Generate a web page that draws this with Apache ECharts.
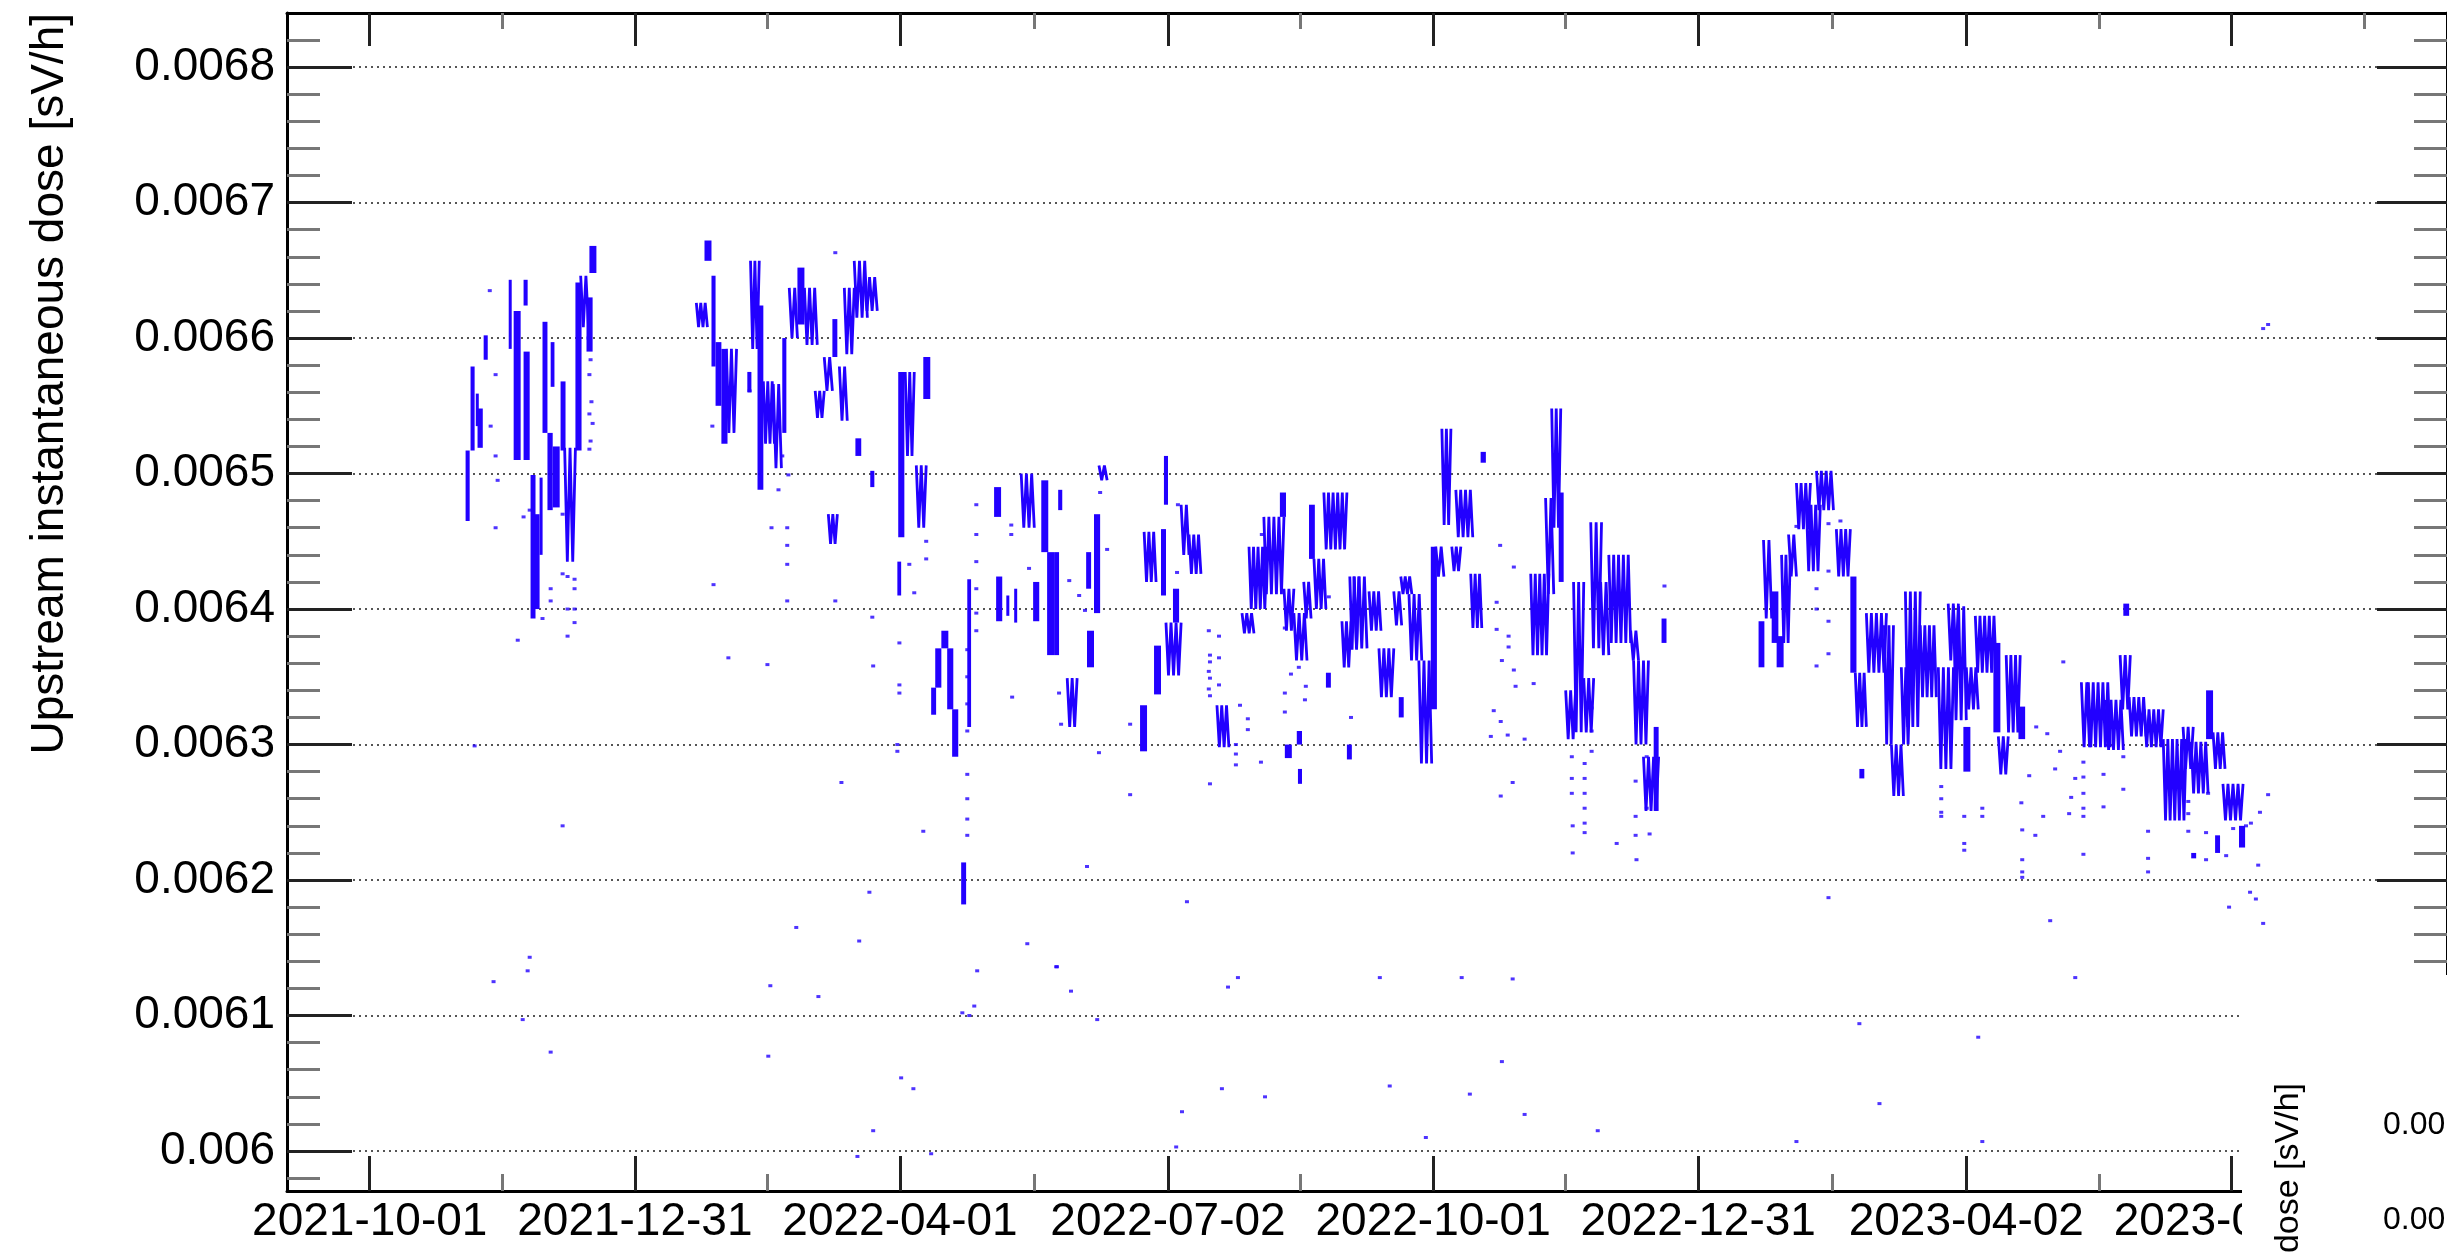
<!DOCTYPE html>
<html>
<head>
<meta charset="utf-8">
<title>Upstream instantaneous dose</title>
<script src="https://cdn.jsdelivr.net/npm/echarts@6/dist/echarts.min.js"></script>
<style>
  html, body { margin: 0; padding: 0; background: #fff; }
  #chart { width: 2447px; height: 1253px; }
</style>
</head>
<body>
<div id="chart"></div>
<script>
// x = days since 2021-10-01, values in sV/h
const xTickDays = [0, 91, 182, 274, 365, 456, 548, 639]
const xTickLabels = ['2021-10-01', '2021-12-31', '2022-04-01', '2022-07-02', '2022-10-01', '2022-12-31', '2023-04-02', '2023-07-02']
const xMinorDays = [45.5, 136.5, 228, 319.5, 410.5, 502, 593.5, 684.5]
const yTickValues = [0.006, 0.0061, 0.0062, 0.0063, 0.0064, 0.0065, 0.0066, 0.0067, 0.0068]
const yTickLabels = ['0.006', '0.0061', '0.0062', '0.0063', '0.0064', '0.0065', '0.0066', '0.0067', '0.0068']

// dense stretches: [day from, day to, low, high]
const streaksQ4_2021 = [
  [32.9, 34.3, 0.006465, 0.006517], [34.6, 36.0, 0.006517, 0.006579], [36.4, 37.4, 0.006535, 0.006559],
  [37.0, 38.8, 0.006519, 0.006548], [39.1, 40.5, 0.006584, 0.006602], [47.7, 48.7, 0.006592, 0.006643],
  [49.4, 51.8, 0.006510, 0.006620], [52.8, 54.2, 0.006624, 0.006643], [52.8, 54.9, 0.006510, 0.006590],
  [55.2, 56.9, 0.006393, 0.006499], [55.9, 58.3, 0.006400, 0.006470], [58.3, 59.3, 0.006440, 0.006497],
  [59.3, 61.0, 0.006530, 0.006612], [62.1, 63.4, 0.006564, 0.006597], [61.0, 62.8, 0.006473, 0.006530],
  [62.8, 65.2, 0.006475, 0.006520], [65.5, 67.2, 0.006517, 0.006568], [66.9, 70.6, 0.006435, 0.006519],
  [70.6, 72.7, 0.006517, 0.006641], [72.4, 75.1, 0.006608, 0.006646], [74.4, 76.5, 0.006590, 0.006630],
  [75.4, 77.8, 0.006648, 0.006668]
]
const streaksQ1_2022 = [
  [112.1, 115.9, 0.006608, 0.006626], [114.9, 117.3, 0.006657, 0.006672], [117.3, 118.7, 0.006579, 0.006646],
  [118.7, 120.7, 0.006550, 0.006597], [120.7, 122.8, 0.006522, 0.006592], [122.4, 125.9, 0.006530, 0.006592],
  [129.6, 131.0, 0.006560, 0.006575], [130.7, 133.7, 0.006592, 0.006657], [133.1, 135.1, 0.006488, 0.006624],
  [135.1, 138.9, 0.006522, 0.006568], [138.5, 141.3, 0.006504, 0.006566], [141.6, 143.0, 0.006530, 0.006600],
  [144.0, 146.8, 0.006600, 0.006637], [146.8, 149.2, 0.006610, 0.006652], [149.2, 153.6, 0.006595, 0.006637],
  [152.9, 156.0, 0.006541, 0.006561], [156.0, 158.8, 0.006561, 0.006586], [158.8, 160.5, 0.006586, 0.006614],
  [161.2, 163.9, 0.006539, 0.006579], [162.9, 166.3, 0.006588, 0.006637], [166.3, 170.8, 0.006615, 0.006657],
  [169.8, 174.2, 0.006620, 0.006645], [166.7, 168.7, 0.006513, 0.006526], [171.8, 173.2, 0.006490, 0.006502],
  [157.4, 160.5, 0.006448, 0.006470], [181.4, 183.5, 0.006453, 0.006575], [181.1, 182.4, 0.006410, 0.006435]
]
const streaksQ2_2022 = [
  [183.8, 186.9, 0.006513, 0.006575], [187.6, 191.0, 0.006460, 0.006506], [190.0, 192.4, 0.006555, 0.006586],
  [192.7, 194.4, 0.006322, 0.006342], [194.1, 196.2, 0.006342, 0.006371], [196.2, 198.6, 0.006371, 0.006384],
  [198.2, 200.3, 0.006326, 0.006371], [199.9, 202.0, 0.006291, 0.006326], [205.1, 206.4, 0.006313, 0.006422],
  [203.0, 204.7, 0.006182, 0.006213], [214.3, 216.7, 0.006468, 0.006490], [215.0, 217.1, 0.006391, 0.006424],
  [223.6, 228.1, 0.006460, 0.006500], [227.7, 229.8, 0.006391, 0.006420], [230.5, 232.9, 0.006442, 0.006495],
  [232.5, 234.9, 0.006366, 0.006442], [218.5, 219.5, 0.006395, 0.006410], [221.2, 222.2, 0.006390, 0.006415],
  [234.9, 236.6, 0.006366, 0.006442], [236.3, 237.7, 0.006473, 0.006488], [239.4, 242.8, 0.006313, 0.006349],
  [245.9, 247.6, 0.006415, 0.006442], [246.2, 248.6, 0.006357, 0.006384], [248.6, 250.7, 0.006397, 0.006470],
  [250.3, 253.1, 0.006495, 0.006506], [264.4, 266.8, 0.006295, 0.006329], [265.8, 269.9, 0.006420, 0.006457],
  [269.2, 271.6, 0.006337, 0.006373], [271.6, 273.3, 0.006410, 0.006459], [272.6, 274.0, 0.006477, 0.006513]
]
const streaksQ3_2022 = [
  [273.3, 278.5, 0.006351, 0.006390], [275.7, 277.8, 0.006390, 0.006415], [278.5, 281.2, 0.006440, 0.006477],
  [281.2, 285.3, 0.006426, 0.006455], [290.8, 294.9, 0.006298, 0.006329], [299.4, 303.5, 0.006382, 0.006397],
  [301.8, 308.0, 0.006400, 0.006446], [306.9, 313.8, 0.006411, 0.006468], [312.4, 314.5, 0.006468, 0.006486],
  [313.8, 317.2, 0.006384, 0.006415], [317.2, 321.7, 0.006362, 0.006397], [320.6, 323.1, 0.006393, 0.006420],
  [322.4, 324.4, 0.006437, 0.006477], [324.1, 328.2, 0.006400, 0.006437], [327.5, 335.4, 0.006444, 0.006486],
  [333.7, 336.8, 0.006357, 0.006391], [336.4, 339.5, 0.006370, 0.006424], [328.2, 329.9, 0.006342, 0.006353],
  [335.4, 337.1, 0.006289, 0.006300], [314.1, 316.5, 0.006290, 0.006300], [318.6, 320.0, 0.006271, 0.006282],
  [318.2, 320.0, 0.006300, 0.006310], [337.8, 342.3, 0.006371, 0.006424], [343.0, 347.1, 0.006384, 0.006413],
  [346.4, 351.5, 0.006335, 0.006371], [351.5, 354.2, 0.006388, 0.006413], [353.9, 357.7, 0.006411, 0.006424],
  [356.7, 361.1, 0.006362, 0.006411], [360.1, 364.5, 0.006286, 0.006362], [353.2, 354.9, 0.006320, 0.006335]
]
const streaksQ4_2022 = [
  [364.2, 366.3, 0.006326, 0.006446], [365.9, 368.7, 0.006424, 0.006446], [368.0, 371.1, 0.006462, 0.006533],
  [371.4, 374.5, 0.006428, 0.006446], [372.8, 378.6, 0.006453, 0.006488], [377.9, 381.7, 0.006386, 0.006426],
  [381.3, 383.1, 0.006508, 0.006516], [398.5, 404.7, 0.006366, 0.006426], [403.6, 406.4, 0.006411, 0.006482],
  [405.7, 408.8, 0.006460, 0.006548], [408.1, 409.8, 0.006420, 0.006486], [410.5, 413.9, 0.006304, 0.006340],
  [413.2, 416.7, 0.006309, 0.006420], [416.7, 420.1, 0.006309, 0.006349], [419.1, 422.8, 0.006371, 0.006464],
  [422.5, 425.3, 0.006366, 0.006420], [425.3, 432.8, 0.006375, 0.006440], [432.8, 435.5, 0.006362, 0.006384],
  [433.8, 438.9, 0.006300, 0.006362], [437.2, 442.4, 0.006251, 0.006291], [440.7, 442.4, 0.006251, 0.006313],
  [443.4, 445.1, 0.006375, 0.006393]
]
const streaksQ1_2023 = [
  [476.7, 478.7, 0.006357, 0.006391], [478.4, 481.2, 0.006393, 0.006451], [481.2, 483.5, 0.006375, 0.006413],
  [482.9, 485.3, 0.006357, 0.006380], [484.6, 487.6, 0.006375, 0.006440], [487.0, 489.7, 0.006424, 0.006455],
  [489.7, 494.5, 0.006459, 0.006493], [493.1, 497.9, 0.006428, 0.006477], [496.6, 502.4, 0.006473, 0.006502],
  [503.4, 508.2, 0.006424, 0.006459], [508.2, 510.3, 0.006353, 0.006424], [509.9, 513.7, 0.006313, 0.006353],
  [513.7, 520.6, 0.006353, 0.006397], [519.9, 523.0, 0.006300, 0.006388], [522.3, 526.4, 0.006262, 0.006300],
  [525.7, 528.8, 0.006300, 0.006357], [527.1, 532.2, 0.006313, 0.006413], [532.2, 537.7, 0.006335, 0.006388],
  [538.4, 543.6, 0.006282, 0.006357], [541.8, 545.3, 0.006362, 0.006404], [511.3, 513.0, 0.006275, 0.006282],
  [543.6, 548.0, 0.006318, 0.006402]
]
const streaksQ2_2023 = [
  [547.0, 549.4, 0.006280, 0.006313], [548.0, 552.1, 0.006326, 0.006357], [551.1, 558.3, 0.006353, 0.006395],
  [557.3, 559.7, 0.006309, 0.006375], [559.0, 562.4, 0.006278, 0.006306], [561.7, 566.5, 0.006309, 0.006366],
  [565.9, 568.2, 0.006304, 0.006328], [587.5, 590.3, 0.006298, 0.006346], [589.9, 597.4, 0.006298, 0.006346],
  [596.0, 601.9, 0.006296, 0.006333], [600.8, 604.3, 0.006326, 0.006366], [601.9, 603.9, 0.006395, 0.006404],
  [603.9, 609.7, 0.006306, 0.006335], [609.1, 615.6, 0.006298, 0.006326], [615.6, 623.5, 0.006244, 0.006304],
  [622.4, 625.9, 0.006282, 0.006313], [625.2, 631.0, 0.006264, 0.006302], [630.3, 632.7, 0.006304, 0.006340],
  [632.7, 636.8, 0.006282, 0.006309], [636.1, 643.0, 0.006244, 0.006271], [641.6, 643.7, 0.006224, 0.006240],
  [633.4, 635.1, 0.006220, 0.006233], [625.2, 626.9, 0.006216, 0.006220]
]

// isolated readings: [day, value]
const dots2021 = [
  [41.2, 0.006635], [41.5, 0.006535], [43.2, 0.006573], [43.2, 0.006513], [43.9, 0.006495], [43.2, 0.006460],
  [36.0, 0.006299], [50.8, 0.006377], [66.2, 0.006240], [42.5, 0.006125], [54.9, 0.006143], [54.2, 0.006133],
  [52.5, 0.006097], [62.1, 0.006073], [66.2, 0.006470], [66.2, 0.006426], [62.1, 0.006415], [62.1, 0.006406],
  [67.9, 0.006424], [67.9, 0.006400], [67.9, 0.006380], [70.3, 0.006422], [70.3, 0.006415], [70.3, 0.006400],
  [70.3, 0.006390], [59.3, 0.006393], [52.8, 0.006468], [54.9, 0.006473], [75.1, 0.006600], [75.8, 0.006584],
  [75.4, 0.006573], [76.1, 0.006553], [75.4, 0.006544], [76.5, 0.006537], [75.8, 0.006524], [75.4, 0.006518]
]
const dots2022H1 = [
  [117.6, 0.006535], [118.0, 0.006418], [123.1, 0.006364], [130.4, 0.006561], [137.9, 0.006460], [140.3, 0.006488],
  [141.6, 0.006513], [143.7, 0.006499], [143.3, 0.006460], [143.3, 0.006447], [143.3, 0.006433], [143.3, 0.006406],
  [136.5, 0.006359], [159.8, 0.006406], [159.8, 0.006663], [172.5, 0.006394], [172.8, 0.006358], [161.9, 0.006272],
  [171.5, 0.006191], [146.4, 0.006165], [168.0, 0.006155], [137.5, 0.006122], [154.0, 0.006114], [136.8, 0.006070],
  [172.8, 0.006015], [167.4, 0.005996], [181.8, 0.006375], [181.8, 0.006344], [181.8, 0.006338], [181.1, 0.006300],
  [181.1, 0.006295], [182.4, 0.006054], [185.2, 0.006433], [186.9, 0.006412], [191.0, 0.006450], [191.0, 0.006437],
  [190.0, 0.006236], [186.6, 0.006046], [192.7, 0.005998], [205.1, 0.006278], [205.1, 0.006260], [205.1, 0.006245],
  [205.1, 0.006233], [205.1, 0.006370], [205.1, 0.006350], [205.1, 0.006330], [205.1, 0.006310], [208.2, 0.006477],
  [208.2, 0.006455], [208.2, 0.006435], [208.2, 0.006415], [208.2, 0.006397], [208.2, 0.006384], [208.5, 0.006133],
  [207.5, 0.006107], [203.4, 0.006102], [205.8, 0.006100], [220.5, 0.006335], [220.2, 0.006462], [220.2, 0.006455],
  [226.3, 0.006430], [225.7, 0.006153], [235.6, 0.006136], [236.6, 0.006338], [237.3, 0.006315], [240.1, 0.006421],
  [243.5, 0.006410], [245.5, 0.006399], [253.1, 0.006444], [250.7, 0.006486], [250.3, 0.006294], [261.0, 0.006263],
  [246.2, 0.006210], [235.9, 0.006136], [240.7, 0.006118], [249.7, 0.006097], [261.0, 0.006315], [277.1, 0.006427],
  [277.4, 0.006477]
]
const dots2022H2 = [
  [280.5, 0.006184], [294.6, 0.006121], [298.0, 0.006128], [292.5, 0.006046], [307.3, 0.006040], [278.8, 0.006029],
  [276.8, 0.006003], [288.4, 0.006271], [305.9, 0.006287], [301.4, 0.006319], [288.0, 0.006384], [288.4, 0.006366],
  [288.4, 0.006361], [288.0, 0.006354], [288.4, 0.006349], [288.0, 0.006341], [288.4, 0.006336], [291.5, 0.006380],
  [291.5, 0.006364], [291.5, 0.006344], [297.3, 0.006300], [297.3, 0.006293], [297.3, 0.006285], [298.7, 0.006329],
  [301.4, 0.006311], [306.2, 0.006455], [314.1, 0.006386], [316.2, 0.006352], [314.1, 0.006338], [314.1, 0.006324],
  [318.9, 0.006357], [321.3, 0.006343], [321.0, 0.006333], [329.2, 0.006409], [336.8, 0.006320], [346.7, 0.006128],
  [374.8, 0.006128], [392.3, 0.006127], [350.1, 0.006048], [377.6, 0.006042], [388.6, 0.006066], [396.4, 0.006027],
  [362.5, 0.006010], [421.5, 0.006015], [388.2, 0.006262], [392.3, 0.006272], [428.0, 0.006227], [439.3, 0.006234],
  [412.9, 0.006220], [434.8, 0.006215], [412.9, 0.006240], [386.8, 0.006405], [386.8, 0.006385], [390.9, 0.006380],
  [390.9, 0.006372], [388.6, 0.006362], [392.7, 0.006355], [393.3, 0.006343], [385.8, 0.006325], [388.2, 0.006317],
  [390.6, 0.006307], [384.8, 0.006306], [396.4, 0.006304], [392.7, 0.006431], [399.5, 0.006345], [388.0, 0.006447],
  [417.0, 0.006286], [417.0, 0.006275], [417.0, 0.006264], [417.0, 0.006253], [417.0, 0.006242], [417.0, 0.006235],
  [412.6, 0.006291], [412.6, 0.006275], [412.6, 0.006264], [434.5, 0.006273], [434.5, 0.006247], [434.5, 0.006233],
  [438.3, 0.006291], [438.3, 0.006253], [419.4, 0.006327], [419.4, 0.006310], [419.4, 0.006295], [444.4, 0.006417]
]
const dots2023 = [
  [539.4, 0.006269], [539.4, 0.006260], [539.4, 0.006250], [539.4, 0.006247], [500.7, 0.006187], [511.3, 0.006094],
  [518.2, 0.006035], [489.7, 0.006007], [496.6, 0.006415], [496.6, 0.006400], [496.6, 0.006358], [500.7, 0.006428],
  [500.7, 0.006391], [500.7, 0.006367], [500.7, 0.006463], [504.8, 0.006465], [489.7, 0.006461], [552.1, 0.006084],
  [553.5, 0.006007], [576.8, 0.006170], [585.4, 0.006128], [581.3, 0.006361], [638.2, 0.006180], [644.0, 0.006240],
  [645.4, 0.006191], [647.4, 0.006186], [649.9, 0.006168], [648.2, 0.006211], [648.8, 0.006250], [651.6, 0.006263],
  [649.9, 0.006607], [651.6, 0.006610], [547.3, 0.006247], [547.3, 0.006227], [547.3, 0.006222], [553.5, 0.006253],
  [553.5, 0.006247], [566.9, 0.006257], [567.2, 0.006237], [567.2, 0.006215], [567.2, 0.006206], [567.2, 0.006202],
  [569.6, 0.006277], [571.7, 0.006233], [572.0, 0.006313], [574.4, 0.006247], [575.8, 0.006308], [578.5, 0.006282],
  [580.2, 0.006295], [583.3, 0.006249], [584.0, 0.006261], [585.4, 0.006275], [588.2, 0.006287], [588.2, 0.006276],
  [588.2, 0.006264], [588.2, 0.006253], [588.2, 0.006247], [588.2, 0.006219], [595.1, 0.006278], [595.1, 0.006254],
  [601.9, 0.006291], [601.9, 0.006267], [610.4, 0.006236], [610.4, 0.006216], [610.4, 0.006206], [624.2, 0.006258],
  [624.2, 0.006249], [624.2, 0.006236], [630.3, 0.006235], [630.3, 0.006215], [631.0, 0.006264], [637.2, 0.006218],
  [639.6, 0.006238], [645.7, 0.006242]
]

const streaks = [].concat(streaksQ4_2021, streaksQ1_2022, streaksQ2_2022, streaksQ3_2022,
  streaksQ4_2022, streaksQ1_2023, streaksQ2_2023)
const dots = [].concat(dots2021, dots2022H1, dots2022H2, dots2023)

const blue = '#2200ff'
const font = "'Liberation Sans', Arial, Helvetica, sans-serif"
const xMin = -28.4
const xMax = 713.0
const yMin = 0.0059705
const yMax = 0.0068399

// minor ticks on the dose axis, every 0.00002
const yMinorValues = []
for (let k = 299; k <= 341; k++) {
  if (k % 5 !== 0) yMinorValues.push(k * 0.00002)
}

const gridBox = { left: 287, top: 13, right: -5, bottom: 62 }

function majorX (position, len, labels) {
  return {
    type: 'value', gridIndex: 0, position: position, min: xMin, max: xMax,
    axisLine: { show: true, onZero: false, lineStyle: { color: '#000', width: 3 } },
    axisTick: { show: true, inside: true, length: len, customValues: xTickDays, lineStyle: { color: '#222', width: 3 } },
    axisLabel: labels ? {
      show: true, customValues: xTickDays, margin: 8, color: '#000', fontSize: 46, fontFamily: font,
      formatter: v => xTickLabels[xTickDays.indexOf(Math.round(v))] || ''
    } : { show: false },
    splitLine: { show: false }
  }
}
function minorX (position, len) {
  return {
    type: 'value', gridIndex: 1, position: position, min: xMin, max: xMax,
    axisLine: { show: false, onZero: false },
    axisTick: { show: true, inside: true, length: len, customValues: xMinorDays, lineStyle: { color: '#777', width: 3 } },
    axisLabel: { show: false },
    splitLine: { show: false }
  }
}
function majorY (position, len, labels) {
  return {
    type: 'value', gridIndex: 0, position: position, min: yMin, max: yMax,
    axisLine: { show: true, onZero: false, lineStyle: { color: '#000', width: 3 } },
    axisTick: { show: true, inside: true, length: len, customValues: yTickValues, lineStyle: { color: '#222', width: 3 } },
    axisLabel: labels ? {
      show: true, customValues: yTickValues, margin: 12, color: '#000', fontSize: 46, fontFamily: font,
      formatter: v => yTickLabels[Math.round((v - 0.006) / 0.0001)]
    } : { show: false },
    splitLine: labels ? { show: true, lineStyle: { color: '#555', width: 2, type: [2, 4] } } : { show: false }
  }
}
function minorY (position, len) {
  return {
    type: 'value', gridIndex: 1, position: position, min: yMin, max: yMax,
    axisLine: { show: false, onZero: false },
    axisTick: { show: true, inside: true, length: len, customValues: yMinorValues, lineStyle: { color: '#777', width: 3 } },
    axisLabel: { show: false },
    splitLine: { show: false }
  }
}

// a wide stretch is drawn as a tight zig-zag between its low and high, a narrow one as a bar
function renderStreak (params, api) {
  const p0 = api.coord([api.value(0), api.value(3)])
  const p1 = api.coord([api.value(1), api.value(2)])
  const w = p1[0] - p0[0]
  const h = p1[1] - p0[1]
  if (w < 7 || h < 8) {
    return {
      type: 'rect',
      shape: { x: p0[0], y: p0[1], width: Math.max(w, 3), height: Math.max(h, 3) },
      style: { fill: blue }
    }
  }
  const n = Math.max(2, Math.round(w / 2.4))
  const pts = []
  for (let i = 0; i <= n; i++) {
    pts.push([p0[0] + w * i / n, i % 2 ? p1[1] : p0[1]])
  }
  return {
    type: 'polyline',
    shape: { points: pts },
    style: { stroke: blue, lineWidth: 2.8, fill: null, lineJoin: 'bevel' }
  }
}

const chart = echarts.init(document.getElementById('chart'), null, { renderer: 'canvas' })
chart.setOption({
  animation: false,
  backgroundColor: '#ffffff',
  grid: [Object.assign({}, gridBox), Object.assign({}, gridBox)],
  xAxis: [majorX('bottom', 35, true), majorX('top', 33, false), minorX('bottom', 17), minorX('top', 16)],
  yAxis: [majorY('left', 65, true), majorY('right', 70, false), minorY('left', 33), minorY('right', 33)],
  series: [
    {
      type: 'custom',
      xAxisIndex: 0,
      yAxisIndex: 0,
      data: streaks,
      encode: { x: [0, 1], y: [2, 3] },
      renderItem: renderStreak
    },
    {
      type: 'scatter',
      xAxisIndex: 0,
      yAxisIndex: 0,
      data: dots,
      symbol: 'rect',
      symbolSize: [4, 3],
      itemStyle: { color: blue }
    }
  ],
  graphic: [
    {
      type: 'text', x: 50, y: 13, rotation: Math.PI / 2, z: 10,
      style: { text: 'Upstream instantaneous dose [sV/h]', font: '46px ' + font, fill: '#000', align: 'right', verticalAlign: 'middle' }
    },
    {
      type: 'rect', z: 100, shape: { x: 2242, y: 975, width: 210, height: 280 }, style: { fill: '#fff' }
    },
    {
      type: 'text', x: 2289, y: 1083, rotation: Math.PI / 2, z: 101,
      style: { text: 'dose [sV/h]', font: '34px ' + font, fill: '#000', align: 'right', verticalAlign: 'middle' }
    },
    {
      type: 'text', x: 2383, y: 1125, z: 101,
      style: { text: '0.00', font: '32px ' + font, fill: '#000', align: 'left', verticalAlign: 'middle' }
    },
    {
      type: 'text', x: 2383, y: 1220, z: 101,
      style: { text: '0.00', font: '32px ' + font, fill: '#000', align: 'left', verticalAlign: 'middle' }
    }
  ]
})
</script>
</body>
</html>
